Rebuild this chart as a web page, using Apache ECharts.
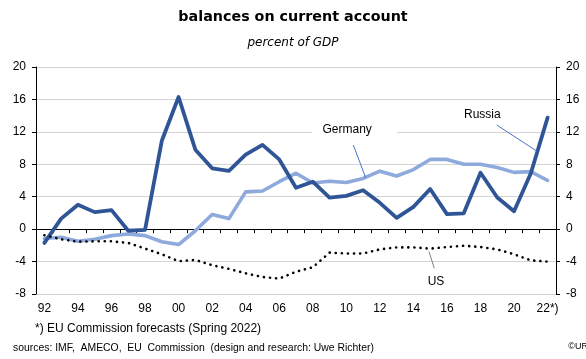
<!DOCTYPE html>
<html>
<head>
<meta charset="utf-8">
<script src="https://cdn.jsdelivr.net/npm/echarts@6/dist/echarts.min.js"></script>
<style>html,body{margin:0;padding:0;background:#fff;}#c{width:586px;height:359px;}</style>
</head>
<body>
<div id="c"></div>
<script>
var years = ['92','93','94','95','96','97','98','99','00','01','02','03','04','05','06','07','08','09','10','11','12','13','14','15','16','17','18','19','20','21','22*)'];
var russia = [-1.7, 1.3, 3.0, 2.1, 2.35, -0.2, -0.1, 10.9, 16.3, 9.8, 7.5, 7.2, 9.2, 10.4, 8.6, 5.1, 5.85, 3.9, 4.1, 4.8, 3.25, 1.4, 2.75, 4.95, 1.85, 1.95, 6.95, 3.9, 2.2, 6.9, 13.75];
var germany = [-1.15, -1.0, -1.5, -1.25, -0.8, -0.6, -0.8, -1.55, -1.9, -0.2, 1.8, 1.3, 4.6, 4.7, 5.85, 6.9, 5.7, 5.9, 5.75, 6.25, 7.15, 6.55, 7.35, 8.6, 8.6, 8.0, 8.0, 7.6, 7.0, 7.1, 6.0];
var us = [-0.75, -1.25, -1.55, -1.5, -1.5, -1.7, -2.4, -3.1, -3.95, -3.8, -4.45, -4.9, -5.45, -5.9, -6.1, -5.25, -4.7, -2.9, -3.0, -3.0, -2.5, -2.25, -2.25, -2.4, -2.2, -2.05, -2.2, -2.5, -3.1, -3.85, -4.0];
var yMin = -8, yMax = 20, yStep = 4;

var FONT = "'Liberation Sans', Arial, sans-serif";
var chart = echarts.init(document.getElementById('c'), null, {renderer: 'canvas'});
var yAxisCommon = {
  type: 'value', min: yMin, max: yMax, interval: yStep,
  axisLine: {show: true, onZero: false, lineStyle: {color: '#000', width: 1}},
  axisTick: {show: true, length: 4, lineStyle: {color: '#000'}},
  axisLabel: {margin: 10, color: '#000', fontSize: 12, fontFamily: FONT}
};
chart.setOption({
  animation: false,
  backgroundColor: '#fff',
  title: [
    {text: 'balances on current account', left: 'center', top: 10, padding: 0,
     textStyle: {fontFamily: "'DejaVu Sans', sans-serif", fontWeight: 'bold', fontSize: 14.3, color: '#000'}},
    {text: 'percent of GDP', left: 'center', top: 37, padding: 0,
     textStyle: {fontFamily: "'DejaVu Sans', sans-serif", fontStyle: 'italic', fontWeight: 'normal', fontSize: 12, color: '#000'}}
  ],
  grid: {left: 36, right: 30, top: 67, bottom: 65, containLabel: false, outerBoundsMode: 'none'},
  xAxis: [
    {
      type: 'category', data: years, boundaryGap: true, position: 'bottom',
      axisLine: {show: false, onZero: false},
      axisTick: {show: false},
      axisLabel: {show: true, interval: 1, margin: 9, color: '#000', fontSize: 12, fontFamily: FONT, hideOverlap: false},
      splitLine: {show: false}
    },
    {
      type: 'category', data: years, boundaryGap: true, position: 'bottom',
      axisLine: {show: true, onZero: true, lineStyle: {color: '#000', width: 1.2}},
      axisTick: {show: true, interval: 0, length: 4, lineStyle: {color: '#000'}},
      axisLabel: {show: false},
      splitLine: {show: false}
    }
  ],
  yAxis: [
    Object.assign({}, yAxisCommon, {position: 'left', splitLine: {show: true, lineStyle: {color: '#d4d4d4', width: 1}}}),
    Object.assign({}, yAxisCommon, {position: 'right', splitLine: {show: false}})
  ],
  series: [
    {name: 'Germany', type: 'line', data: germany, symbol: 'none', z: 3,
     lineStyle: {color: '#8eaadc', width: 3.6, cap: 'round', join: 'round'}},
    {name: 'Russia', type: 'line', data: russia, symbol: 'none', z: 4,
     lineStyle: {color: '#2f5597', width: 3.8, cap: 'round', join: 'round'}},
    {name: 'US', type: 'line', data: us, symbol: 'none', z: 5,
     lineStyle: {color: '#000', width: 2.6, type: [0.1, 6], cap: 'round', join: 'round'}}
  ],
  graphic: [
    {type: 'rect', z: 1, shape: {x: 312, y: 124, width: 85, height: 14}, style: {fill: '#fff'}},
    {type: 'text', z: 10, x: 322.5, y: 130, style: {text: 'Germany', font: '12px ' + FONT, fill: '#000', textAlign: 'left', textVerticalAlign: 'middle'}},
    {type: 'line', z: 10, shape: {x1: 353.3, y1: 145, x2: 365.7, y2: 177.7}, style: {stroke: '#4a74c4', lineWidth: 1}},
    {type: 'text', z: 10, x: 464, y: 115, style: {text: 'Russia', font: '12px ' + FONT, fill: '#000', textAlign: 'left', textVerticalAlign: 'middle'}},
    {type: 'line', z: 10, shape: {x1: 496.7, y1: 125, x2: 536.7, y2: 151}, style: {stroke: '#4a74c4', lineWidth: 1}},
    {type: 'text', z: 10, x: 427.7, y: 281.7, style: {text: 'US', font: '12px ' + FONT, fill: '#000', textAlign: 'left', textVerticalAlign: 'middle'}},
    {type: 'line', z: 10, shape: {x1: 429, y1: 251.7, x2: 434.3, y2: 268.3}, style: {stroke: '#808080', lineWidth: 1}},
    {type: 'text', z: 10, x: 35, y: 328.5, style: {text: '*) EU Commission forecasts (Spring 2022)', font: '12px ' + FONT, fill: '#000', textAlign: 'left', textVerticalAlign: 'middle'}},
    {type: 'text', z: 10, x: 13, y: 347.7, style: {text: 'sources: IMF,  AMECO,  EU  Commission  (design and research: Uwe Richter)', font: '10.4px ' + FONT, fill: '#000', textAlign: 'left', textVerticalAlign: 'middle'}},
    {type: 'text', z: 10, x: 588, y: 346.5, style: {text: '\u00A9UR', font: '9px ' + FONT, fill: '#000', textAlign: 'right', textVerticalAlign: 'middle'}}
  ]
});
</script>
</body>
</html>
